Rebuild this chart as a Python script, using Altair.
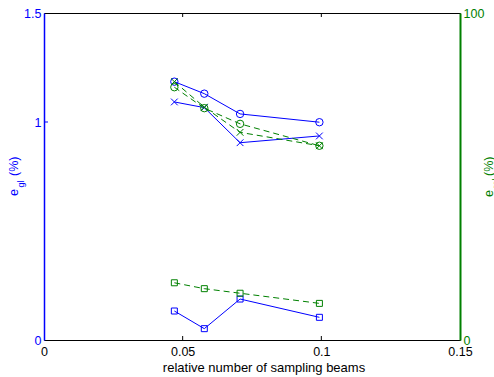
import altair as alt
import pandas as pd

# ---- data ----
x_vals = [0.047, 0.0578, 0.0707, 0.0993]
blue_circle = [1.185, 1.130, 1.037, 0.999]
blue_cross = [1.092, 1.066, 0.905, 0.936]
blue_square = [0.133, 0.052, 0.188, 0.104]
green_circle = [77.3, 70.9, 66.1, 59.4]
green_cross = [79.0, 71.2, 63.5, 59.4]
green_square = [17.5, 15.7, 14.3, 11.2]

x_ticks = [0, 0.05, 0.1, 0.15]
left_ticks = [0, 1, 1.5]
right_ticks = [0, 100]
x_inner = [0.05, 0.1]
left_inner = [1]

BLUE = "#0000ff"
GREEN = "#008000"
FONT = "Liberation Sans"
W, H = 416, 327
X_PATH = "M-1,-1L1,1M-1,1L1,-1"


def frame(series):
    rows = []
    for name, vals in series.items():
        for xv, yv in zip(x_vals, vals):
            rows.append({"x": xv, "y": yv, "series": name, "marker": name.split("_")[1]})
    return pd.DataFrame(rows)


left_df = frame({"blue_circle": blue_circle, "blue_cross": blue_cross, "blue_square": blue_square})
right_df = frame({"green_circle": green_circle, "green_cross": green_cross, "green_square": green_square})

xenc = alt.X(
    "x:Q",
    scale=alt.Scale(domain=[0, 0.15], nice=False, zero=False),
    axis=alt.Axis(values=x_ticks, ticks=False, domain=False, grid=False, labelFlush=False,
                  labelPadding=5, labelFontSize=12.5, labelFont=FONT, labelColor="black",
                  labelExpr="'' + datum.value", title=None),
)
yleft = alt.Y(
    "y:Q",
    scale=alt.Scale(domain=[0, 1.5], nice=False, zero=False),
    axis=alt.Axis(values=left_ticks, orient="left", ticks=False, grid=False, labelFlush=False,
                  domainColor=BLUE, domainWidth=1.5, labelColor=BLUE, labelPadding=3,
                  labelFontSize=12.5, labelFont=FONT, labelExpr="'' + datum.value", title=None),
)
yright = alt.Y(
    "y:Q",
    scale=alt.Scale(domain=[0, 100], nice=False, zero=False),
    axis=alt.Axis(values=right_ticks, orient="right", ticks=False, grid=False, labelFlush=False,
                  domainColor=GREEN, domainWidth=2, labelColor=GREEN, labelPadding=3,
                  labelFontSize=12.5, labelFont=FONT, labelExpr="'' + datum.value", title=None),
)
shape_enc = alt.Shape("marker:N", scale=alt.Scale(domain=["circle", "cross", "square"],
                                                   range=["circle", X_PATH, "square"]), legend=None)
size_enc = alt.Size("marker:N", scale=alt.Scale(domain=["circle", "cross", "square"],
                                                 range=[55, 36, 45]), legend=None)

left_line = alt.Chart(left_df).mark_line(color=BLUE, strokeWidth=1).encode(
    x=xenc, y=yleft, detail="series:N")
left_pts = alt.Chart(left_df).mark_point(color=BLUE, filled=False, strokeWidth=1, opacity=1).encode(
    x=xenc, y=yleft, shape=shape_enc, size=size_enc)

xin_df = pd.DataFrame({"x": x_inner})
xt_bottom = alt.Chart(xin_df).mark_rule(color="black", strokeWidth=1).encode(
    x=xenc, y=alt.value(H), y2=alt.value(H - 4))
xt_top = alt.Chart(xin_df).mark_rule(color="black", strokeWidth=1).encode(
    x=xenc, y=alt.value(0), y2=alt.value(4))
yl_df = pd.DataFrame({"y": left_inner})
yt_left = alt.Chart(yl_df).mark_rule(color=BLUE, strokeWidth=1).encode(
    y=yleft, x=alt.value(0), x2=alt.value(4))

left_group = alt.layer(left_line, left_pts, xt_bottom, xt_top, yt_left)

right_line = alt.Chart(right_df).mark_line(color=GREEN, strokeWidth=1, strokeDash=[6, 4]).encode(
    x=xenc, y=yright, detail="series:N")
right_pts = alt.Chart(right_df).mark_point(color=GREEN, filled=False, strokeWidth=1, opacity=1).encode(
    x=xenc, y=yright, shape=shape_enc, size=size_enc)
right_group = alt.layer(right_line, right_pts)


def label(text, x, y, color, size, angle=0, align="left", baseline="alphabetic"):
    return alt.Chart(pd.DataFrame({"t": [text]})).mark_text(
        font=FONT, fontSize=size, color=color, angle=angle, align=align, baseline=baseline
    ).encode(text="t:N", x=alt.value(x), y=alt.value(y))


annots = alt.layer(
    label("relative number of sampling beams", 220, 355, "black", 13, align="center", baseline="middle"),
    label("e", -26, 183, BLUE, 12.5, angle=270),
    label("gl", -20, 174.5, BLUE, 9, angle=270),
    label("(%)", -26, 163, BLUE, 12.5, angle=270),
    label("e", 449, 184, GREEN, 12.5, angle=270),
    label("rel", 455, 175.5, GREEN, 9, angle=270),
    label("(%)", 449, 163, GREEN, 12.5, angle=270),
)

chart = alt.layer(left_group, right_group, annots).resolve_scale(
    y="independent", shape="shared", size="shared"
).properties(
    width=W, height=H,
    padding={"left": 44, "top": 13, "right": 34, "bottom": 37},
    autosize=alt.AutoSizeParams(type="none"),
    background="white",
).configure_view(stroke="black", strokeWidth=1)

chart.save("out.html", embed_options={"renderer": "svg", "actions": False})
